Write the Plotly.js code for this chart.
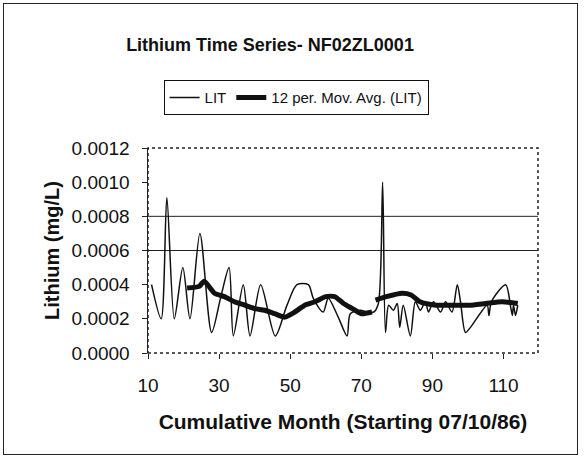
<!DOCTYPE html>
<html>
<head>
<meta charset="utf-8">
<script src="https://cdn.plot.ly/plotly-3.0.1.min.js"></script>
<style>
  html, body { margin: 0; padding: 0; background: #fff; }
  #chart { width: 587px; height: 466px; }
  #frame { position: absolute; left: 3px; top: 3px; width: 573px; height: 450px; border: 1px solid #222; pointer-events: none; }
</style>
</head>
<body>
<div id="chart"></div>
<div id="frame"></div>
<script>
// Lithium (LIT) samples: cumulative month and concentration (mg/L)
const litMonth = [11.0, 13.7, 15.3, 17.4, 19.8, 21.8, 24.6, 27.9, 30.5, 32.8, 34.0, 36.8, 38.7, 41.7, 45.8, 49.1, 51.9, 55.1, 56.5, 59.3, 60.7, 63.5, 66.0, 66.9, 69.7, 71.6, 73.5, 74.8, 76.0, 76.8, 77.7, 79.0, 80.1, 80.8, 81.8, 83.8, 85.2, 86.6, 88.0, 88.9, 90.3, 92.3, 93.7, 95.5, 97.0, 97.9, 99.3, 100.7, 105.4, 105.9, 106.6, 110.6, 112.0, 112.5, 112.8, 113.4, 114.0];
const litValue = [0.00040, 0.00020, 0.00091, 0.00020, 0.00050, 0.00020, 0.00070, 0.00012, 0.00033, 0.00050, 0.00010, 0.00040, 0.00010, 0.00040, 0.00010, 0.00028, 0.00040, 0.00040, 0.00032, 0.00024, 0.00032, 0.00021, 0.00010, 0.00023, 0.00025, 0.00024, 0.00024, 0.00029, 0.00100, 0.00012, 0.00028, 0.00025, 0.00029, 0.00015, 0.00028, 0.00010, 0.00030, 0.00025, 0.00030, 0.00024, 0.00030, 0.00024, 0.00030, 0.00024, 0.00040, 0.00030, 0.00012, 0.00015, 0.00028, 0.00022, 0.00030, 0.00040, 0.00027, 0.00022, 0.00028, 0.00022, 0.00028];

// 12 period moving average (null = break in the line)
const maMonth = [21.0, 24.4, 25.8, 28.7, 31.5, 34.3, 37.2, 40.0, 42.8, 45.6, 48.5, 51.3, 54.1, 57.0, 60.0, 62.5, 65.0, 67.5, 70.0, 73.0, 73.5, 74.0, 77.0, 81.5, 84.0, 86.5, 91.0, 95.5, 100.3, 105.0, 109.6, 114.0];
const maValue = [0.00038, 0.00039, 0.00042, 0.00035, 0.00033, 0.00030, 0.00028, 0.00026, 0.00025, 0.00023, 0.00021, 0.00024, 0.00028, 0.00030, 0.00033, 0.00033, 0.00029, 0.00026, 0.00023, 0.00024, null, 0.00031, 0.00033, 0.00035, 0.00034, 0.00030, 0.00028, 0.00028, 0.00028, 0.00029, 0.00030, 0.00029];

const yTicks = [0, 0.0002, 0.0004, 0.0006, 0.0008, 0.0010, 0.0012];
const yTickText = ["0.0000", "0.0002", "0.0004", "0.0006", "0.0008", "0.0010", "0.0012"];
const xTicks = [10, 30, 50, 70, 90, 110];
const gridValues = [0.0006, 0.0008];

const FONT = "Liberation Sans, Arial, sans-serif";

const traces = [
  {
    x: litMonth, y: litValue, name: "LIT", type: "scatter", mode: "lines",
    line: { color: "#111", width: 1.5, shape: "spline", smoothing: 0.8 }
  },
  {
    x: maMonth, y: maValue, name: "12 per. Mov. Avg. (LIT)", type: "scatter", mode: "lines",
    connectgaps: false,
    line: { color: "#111", width: 5, shape: "spline", smoothing: 0.6 }
  }
];

const shapes = gridValues.map(v => ({
  type: "line", xref: "paper", x0: 0, x1: 1, yref: "y", y0: v, y1: v,
  line: { color: "#222", width: 1 }, layer: "below"
}));
shapes.push({
  type: "rect", xref: "paper", yref: "paper", x0: 0, x1: 1, y0: 0, y1: 1,
  line: { color: "#222", width: 1.5, dash: "dot" }
});

const layout = {
  width: 587, height: 466,
  margin: { l: 148, r: 49, t: 148, b: 113 },
  paper_bgcolor: "#fff", plot_bgcolor: "#fff",
  font: { family: FONT, color: "#111", size: 18 },
  title: {
    text: "<b>Lithium Time Series- NF02ZL0001</b>",
    font: { family: FONT, size: 18, color: "#111" },
    x: 0.46, xref: "container", xanchor: "center",
    y: 0.905, yref: "container", yanchor: "middle"
  },
  showlegend: true,
  legend: {
    orientation: "h", x: 0.04, xanchor: "left", y: 1.33, yanchor: "top",
    bordercolor: "#111", borderwidth: 1, bgcolor: "#fff",
    font: { family: FONT, size: 15, color: "#111" },
    itemwidth: 30, tracegroupgap: 0
  },
  xaxis: {
    range: [10, 119.7], tickmode: "array", tickvals: xTicks, ticktext: xTicks.map(String),
    showgrid: false, zeroline: false, showline: false,
    ticks: "outside", ticklen: 5, tickcolor: "#222", ticklabelstandoff: 10,
    tickfont: { family: FONT, size: 19, color: "#111" },
    title: { text: "<b>Cumulative Month (Starting 07/10/86)</b>", font: { family: FONT, size: 21, color: "#111" }, standoff: 19 }
  },
  yaxis: {
    range: [0, 0.0012], tickmode: "array", tickvals: yTicks, ticktext: yTickText,
    showgrid: false, zeroline: false, showline: true, linecolor: "#222", linewidth: 1.5,
    ticks: "outside", ticklen: 5, tickcolor: "#222", ticklabelstandoff: 8,
    tickfont: { family: FONT, size: 19, color: "#111" },
    title: { text: "<b>Lithium (mg/L)</b>", font: { family: FONT, size: 20, color: "#111" }, standoff: 6 }
  },
  shapes: shapes,
  hovermode: false
};

Plotly.newPlot("chart", traces, layout, { displayModeBar: false, staticPlot: true });
</script>
</body>
</html>
